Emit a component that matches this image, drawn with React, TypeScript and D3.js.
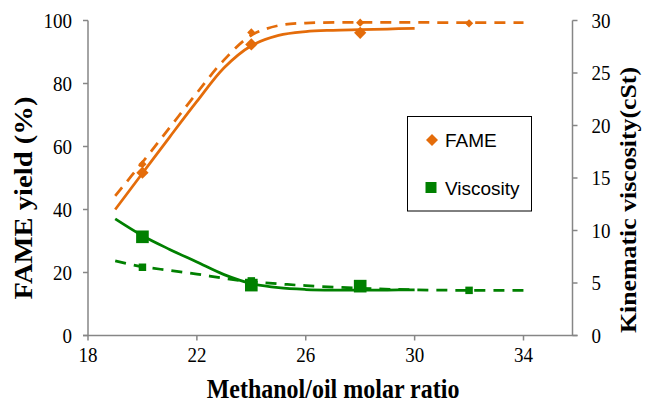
import React from "react";
import * as d3 from "d3";

// ---- data ----
const xTicks = [18, 22, 26, 30, 34];
const yLeftTicks = [0, 20, 40, 60, 80, 100];
const yRightTicks = [0, 5, 10, 15, 20, 25, 30];

// fitted (solid) curves
const ratioFit = [19, 20, 21, 22, 23, 24, 25, 26, 27, 28, 29, 30];
const fameFit = [40.0, 51.5, 63.0, 74.3, 85.0, 92.0, 95.3, 96.5, 96.9, 97.1, 97.3, 97.5];
const viscFit = [11.1, 9.5, 8.2, 7.0, 5.8, 4.95, 4.55, 4.38, 4.32, 4.32, 4.33, 4.35];

// predicted (dashed) curves
const ratioPredLine = [19, 20, 21, 22, 23, 24, 25, 26, 28, 30, 32, 34];
const famePredLine = [44.3, 55.0, 66.0, 77.0, 87.5, 95.3, 98.4, 99.2, 99.4, 99.4, 99.3, 99.3];
const viscPredLine = [7.1, 6.55, 6.2, 5.85, 5.45, 5.12, 4.92, 4.75, 4.5, 4.35, 4.3, 4.3];

// experimental markers (large)
const ratioExp = [20, 24, 28];
const fameExp = [51.7, 92.4, 96.1];
const viscExp = [9.4, 4.8, 4.7];

// predicted markers (small)
const ratioPred = [20, 24, 28, 32];
const famePred = [54.4, 96.2, 99.3, 99.1];
const viscPred = [6.5, 5.2, 4.5, 4.3];

const legendLabels = ["FAME", "Viscosity"];
const xTitle = "Methanol/oil molar ratio";
const yLeftTitle = "FAME yield (%)";
const yRightTitle = "Kinematic viscosity(cSt)";

const ORANGE = "#E46C0A";
const GREEN = "#008000";
const AXIS = "#868686";

export default function App() {
  const W = 645, H = 402;
  const left = 88, right = 572.5, top = 20.5, bottom = 335.5;
  const xMax = 35.8;
  const x = d3.scaleLinear().domain([18, xMax]).range([left, right]);
  const yL = d3.scaleLinear().domain([0, 100]).range([bottom, top]);
  const yR = d3.scaleLinear().domain([0, 30]).range([bottom, top]);

  const lineGen = (xs: number[], ys: number[], sc: d3.ScaleLinear<number, number>) =>
    d3
      .line<number>()
      .x((_, i) => x(xs[i]))
      .y((d) => sc(d))
      .curve(d3.curveCatmullRom.alpha(0.5))(ys) as string;

  const sq = (area: number) => d3.symbol().type(d3.symbolSquare).size(area)() as string;

  const serif = "'Liberation Serif', 'Times New Roman', serif";
  const sans = "'Liberation Sans', Arial, sans-serif";

  return (
    <svg width={W} height={H} style={{ position: "absolute", left: 0, top: 0, background: "#fff" }}>
      <rect x={0} y={0} width={W} height={H} fill="#fff" />
      {/* axes */}
      <g stroke={AXIS} strokeWidth={1.5} fill="none">
        <line x1={left} y1={top} x2={left} y2={bottom} />
        <line x1={left - 5} y1={bottom} x2={right + 5} y2={bottom} />
        <line x1={right} y1={top} x2={right} y2={bottom} />
        {yLeftTicks.map((t) => (
          <line key={"l" + t} x1={left - 5} x2={left} y1={yL(t)} y2={yL(t)} />
        ))}
        {yRightTicks.map((t) => (
          <line key={"r" + t} x1={right} x2={right + 5} y1={yR(t)} y2={yR(t)} />
        ))}
        {xTicks.map((t) => (
          <line key={"x" + t} x1={x(t)} x2={x(t)} y1={bottom} y2={bottom + 5} />
        ))}
      </g>
      {/* tick labels */}
      <g fontFamily={serif} fontSize={19} fill="#000">
        {yLeftTicks.map((t) => (
          <text key={"lt" + t} transform={`translate(${left - 16},${yL(t)}) scale(1,1.1)`} dy="0.34em" textAnchor="end">
            {t}
          </text>
        ))}
        {yRightTicks.map((t) => (
          <text key={"rt" + t} transform={`translate(${right + 19},${yR(t)}) scale(1,1.1)`} dy="0.34em" textAnchor="start">
            {t}
          </text>
        ))}
        {xTicks.map((t) => (
          <text key={"xt" + t} transform={`translate(${x(t)},${bottom + 26}) scale(1,1.1)`} textAnchor="middle">
            {t}
          </text>
        ))}
      </g>
      {/* axis titles */}
      <g fontFamily={serif} fontWeight="bold" fill="#000">
        <text transform="translate(333,398) scale(1,1.1)" fontSize={24} textAnchor="middle">
          {xTitle}
        </text>
        <text transform="translate(31.5,198) rotate(-90) scale(1.1,1)" fontSize={26} textAnchor="middle">
          {yLeftTitle}
        </text>
        <text transform="translate(636,200) rotate(-90) scale(1.1,1)" fontSize={23.5} textAnchor="middle">
          {yRightTitle}
        </text>
      </g>
      {/* lines */}
      <g fill="none" strokeWidth={2.75}>
        <path d={lineGen(ratioFit, fameFit, yL)} stroke={ORANGE} />
        <path d={lineGen(ratioPredLine, famePredLine, yL)} stroke={ORANGE} strokeDasharray="11,8" />
        <path d={lineGen(ratioFit, viscFit, yR)} stroke={GREEN} />
        <path d={lineGen(ratioPredLine, viscPredLine, yR)} stroke={GREEN} strokeDasharray="11,8" />
      </g>
      {/* markers */}
      {ratioPred.map((r, i) => (
        <path key={"fp" + i} d={sq(34)} transform={`translate(${x(r)},${yL(famePred[i])}) rotate(45)`} fill={ORANGE} />
      ))}
      {ratioExp.map((r, i) => (
        <path key={"fe" + i} d={sq(75)} transform={`translate(${x(r)},${yL(fameExp[i])}) rotate(45)`} fill={ORANGE} />
      ))}
      {ratioPred.map((r, i) => (
        <path key={"vp" + i} d={sq(56)} transform={`translate(${x(r)},${yR(viscPred[i])})`} fill={GREEN} />
      ))}
      {ratioExp.map((r, i) => (
        <path key={"ve" + i} d={sq(160)} transform={`translate(${x(r)},${yR(viscExp[i])})`} fill={GREEN} />
      ))}
      {/* legend */}
      <g>
        <rect x={407.5} y={116.5} width={124} height={94.5} fill="#fff" stroke="#000" strokeWidth={1} />
        <path d={sq(72)} transform="translate(432,140) rotate(45)" fill={ORANGE} />
        <path d={sq(121)} transform="translate(431,187.5)" fill={GREEN} />
        <g fontFamily={sans} fontSize={19} fill="#000">
          <text x={445} y={147}>
            {legendLabels[0]}
          </text>
          <text x={445} y={194.5}>
            {legendLabels[1]}
          </text>
        </g>
      </g>
    </svg>
  );
}
